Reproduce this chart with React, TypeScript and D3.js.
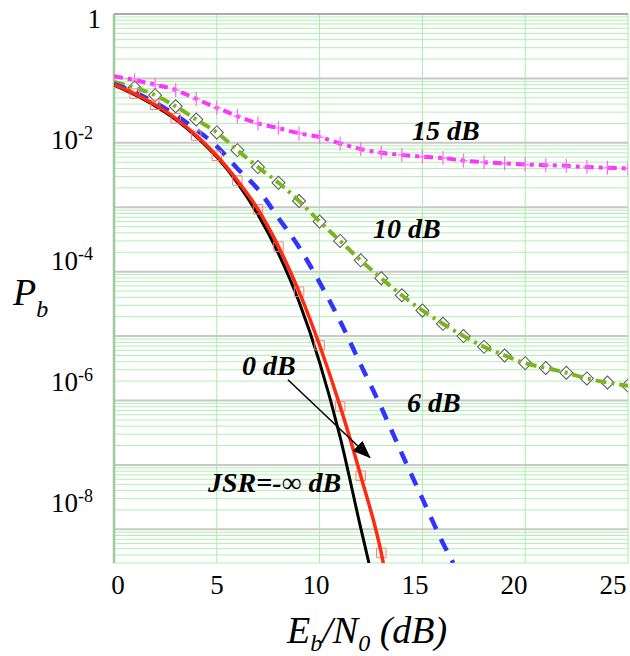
import React, { Component } from "react";
import * as d3 from "d3";

// Eb/N0 (dB) and Pb, one pair of arrays per curve
const ebnoJsrInf = [0, 1, 2, 3, 4, 5, 6, 7, 8, 9, 10, 11, 12, 12.4];
const pbJsrInf = [7.9e-2, 5.6e-2, 3.75e-2, 2.3e-2, 1.25e-2, 6.0e-3, 2.4e-3, 7.7e-4, 1.9e-4, 3.4e-5, 3.9e-6, 2.7e-7, 1.05e-8, 3.0e-9];

const ebno0dB = [0, 1, 2, 3, 4, 5, 6, 7, 8, 9, 10, 11, 12, 13, 13.1];
const pb0dB = [8.0e-2, 5.8e-2, 3.9e-2, 2.4e-2, 1.3e-2, 6.3e-3, 2.6e-3, 9.3e-4, 2.45e-4, 4.9e-5, 7.2e-6, 8.1e-7, 6.8e-8, 4.3e-9, 3.0e-9];

const ebno6dB = [0, 1, 2, 3, 4, 5, 6, 7, 8, 9, 10, 11, 12, 13, 14, 15, 16, 16.5];
const pb6dB = [8.2e-2, 6.1e-2, 4.2e-2, 2.7e-2, 1.6e-2, 8.8e-3, 4.0e-3, 1.9e-3, 6.8e-4, 2.4e-4, 6.8e-5, 1.7e-5, 3.6e-6, 7.8e-7, 1.5e-7, 3.0e-8, 6.1e-9, 3.0e-9];

const ebno10dB = [0, 1, 2, 3, 4, 5, 6, 7, 8, 9, 10, 11, 12, 13, 14, 15, 16, 17, 18, 19, 20, 21, 22, 23, 24, 25];
const pb10dB = [8.8e-2, 7.2e-2, 5.5e-2, 3.7e-2, 2.3e-2, 1.45e-2, 7.7e-3, 4.2e-3, 2.4e-3, 1.25e-3, 6.0e-4, 3.0e-4, 1.5e-4, 7.9e-5, 4.3e-5, 2.5e-5, 1.55e-5, 1.0e-5, 6.8e-6, 5.0e-6, 3.8e-6, 3.2e-6, 2.7e-6, 2.2e-6, 1.9e-6, 1.7e-6];

const ebno15dB = [0, 1, 2, 3, 4, 5, 6, 7, 8, 9, 10, 11, 12, 13, 14, 15, 16, 17, 18, 19, 20, 21, 22, 23, 24, 25];
const pb15dB = [0.108, 0.094, 0.08, 0.066, 0.048, 0.035, 0.026, 0.02, 0.017, 0.014, 0.0123, 0.0098, 0.008, 0.007, 0.0065, 0.0061, 0.0058, 0.0053, 0.005, 0.0048, 0.0046, 0.0045, 0.0044, 0.0042, 0.0041, 0.004];

const xTicks = [0, 5, 10, 15, 20, 25];
const yTickExps = [0, -2, -4, -6, -8];

// curve labels, placed in data coordinates
const curveLabels = [
  { text: "15 dB", db: 14.5, pb: 1.1e-2 },
  { text: "10 dB", db: 12.6, pb: 3.3e-4 },
  { text: "6 dB", db: 14.25, pb: 6.6e-7 },
  { text: "0 dB", db: 6.23, pb: 2.5e-6 },
  { text: "JSR=-\u221E dB", db: 4.57, pb: 3.8e-8 },
];
const arrowFrom = { db: 8.46, pb: 2.1e-6 };
const arrowTo = { db: 12.45, pb: 1.3e-7 };

const serif = "\"Liberation Serif\", Tinos, \"Times New Roman\", \"DejaVu Serif\", serif";

class App extends Component {
  svgRef = React.createRef<SVGSVGElement>();

  componentDidMount() {
    this.draw();
  }

  draw() {
    const svg = d3.select(this.svgRef.current);
    svg.selectAll("*").remove();

    const left = 114, right = 628, top = 14, bottom = 563;
    const yMin = 3e-9;

    const x = d3.scaleLinear().domain([0, 25]).range([left, right]);
    const y = d3.scaleLog().domain([1, yMin]).range([top, bottom]);
    // tick labels in the figure sit slightly off the grid lines
    const xLab = d3.scaleLinear().domain([0, 25]).range([118, 613]);
    const yLab = d3.scaleLog().domain([1, 1e-8]).range([28, 512]);

    const defs = svg.append("defs");
    defs.append("clipPath").attr("id", "plotclip")
      .append("rect").attr("x", left).attr("y", top - 2)
      .attr("width", right - left).attr("height", bottom - top + 2);
    defs.append("marker").attr("id", "arrowhead")
      .attr("markerUnits", "userSpaceOnUse")
      .attr("markerWidth", 18).attr("markerHeight", 14)
      .attr("refX", 17).attr("refY", 7).attr("orient", "auto")
      .append("path").attr("d", "M0,0L18,7L0,14Z").attr("fill", "#000");

    // grid
    const minors: number[] = [];
    const decades: number[] = [];
    for (let k = 0; k >= -9; k--) {
      for (let m = 1; m <= 9; m++) {
        const v = m * Math.pow(10, k);
        if (v > 1.0001 || v < yMin * 0.999) continue;
        (m === 1 ? decades : minors).push(v);
      }
    }
    const grid = svg.append("g");
    grid.selectAll(".minor").data(minors).join("line")
      .attr("x1", left).attr("x2", right)
      .attr("y1", (d) => y(d)).attr("y2", (d) => y(d))
      .attr("stroke", "#b2efb2").attr("stroke-width", 1);
    grid.selectAll(".vgrid").data(xTicks.slice(1)).join("line")
      .attr("x1", (d) => x(d)).attr("x2", (d) => x(d))
      .attr("y1", top).attr("y2", bottom)
      .attr("stroke", "#a8eca8").attr("stroke-width", 1);
    grid.selectAll(".decade").data(decades).join("line")
      .attr("x1", left).attr("x2", right)
      .attr("y1", (d) => y(d)).attr("y2", (d) => y(d))
      .attr("stroke", "#c8c8c8").attr("stroke-width", 2);
    grid.append("line")
      .attr("x1", left).attr("x2", left).attr("y1", top).attr("y2", bottom)
      .attr("stroke", "#9fc99f").attr("stroke-width", 2.5);
    grid.append("line")
      .attr("x1", left).attr("x2", right).attr("y1", top).attr("y2", top)
      .attr("stroke", "#aaaaaa").attr("stroke-width", 2);

    const line = d3.line<[number, number]>()
      .x((d) => x(d[0]))
      .y((d) => y(d[1]))
      .curve(d3.curveMonotoneX);
    const pts = (xs: number[], ys: number[]) => xs.map((v, i) => [v, ys[i]] as [number, number]);

    const curves = svg.append("g").attr("clip-path", "url(#plotclip)");

    // JSR = 15 dB, magenta dash-dot with plus markers
    const p15 = pts(ebno15dB, pb15dB);
    curves.append("path").datum(p15).attr("d", line)
      .attr("fill", "none").attr("stroke", "#ff33ff")
      .attr("stroke-width", 4).attr("stroke-dasharray", "9,5,4,5");
    curves.selectAll(".plus").data(p15.slice(1)).join("path")
      .attr("transform", (d) => `translate(${x(d[0])},${y(d[1])})`)
      .attr("d", "M0,-7V7M-4,0H4")
      .attr("stroke", "#ff66ff").attr("stroke-width", 1.2).attr("fill", "none");

    // JSR = 10 dB, green dash-dot with hollow diamonds
    const p10 = pts(ebno10dB, pb10dB);
    curves.selectAll(".diamond").data(p10.slice(1)).join("path")
      .attr("transform", (d) => `translate(${x(d[0])},${y(d[1])}) rotate(45)`)
      .attr("d", d3.symbol().type(d3.symbolSquare).size(85)())
      .attr("fill", "#ffffff").attr("stroke", "#555555").attr("stroke-width", 1);
    curves.append("path").datum(p10).attr("d", line)
      .attr("fill", "none").attr("stroke", "#7ab51d")
      .attr("stroke-width", 4).attr("stroke-dasharray", "11,5,3,5");

    // JSR = 6 dB, blue dashed
    curves.append("path").datum(pts(ebno6dB, pb6dB)).attr("d", line)
      .attr("fill", "none").attr("stroke", "#3333ff")
      .attr("stroke-width", 4.5).attr("stroke-dasharray", "13,11");

    // JSR = -inf dB, black solid
    curves.append("path").datum(pts(ebnoJsrInf, pbJsrInf)).attr("d", line)
      .attr("fill", "none").attr("stroke", "#000000").attr("stroke-width", 3);

    // JSR = 0 dB, red solid with faint square markers
    const p0 = pts(ebno0dB, pb0dB);
    curves.selectAll(".square").data(p0.slice(1, 14)).join("path")
      .attr("transform", (d) => `translate(${x(d[0])},${y(d[1])})`)
      .attr("d", d3.symbol().type(d3.symbolSquare).size(90)())
      .attr("fill", "none").attr("stroke", "#ff8080").attr("stroke-width", 1);
    curves.append("path").datum(p0).attr("d", line)
      .attr("fill", "none").attr("stroke", "#ff2a10").attr("stroke-width", 3.5);

    // tick labels
    svg.selectAll(".xtick").data(xTicks).join("text")
      .attr("x", (d) => xLab(d)).attr("y", 594)
      .attr("text-anchor", "middle")
      .style("font-family", serif).style("font-size", "27px")
      .text((d) => d);

    yTickExps.forEach((e) => {
      const t = svg.append("text")
        .attr("y", yLab(Math.pow(10, e)))
        .style("font-family", serif).style("font-size", "27px");
      if (e === 0) {
        t.attr("x", 101).attr("text-anchor", "end").text("1");
      } else {
        t.attr("x", 51);
        t.append("tspan").text("10");
        t.append("tspan").attr("dy", -10).style("font-size", "18px").text(String(e));
      }
    });

    // axis titles
    const yt = svg.append("text").attr("x", 13).attr("y", 305)
      .style("font-family", serif).style("font-style", "italic").style("font-size", "38px");
    yt.append("tspan").text("P");
    yt.append("tspan").attr("dy", 12).style("font-size", "24px").text("b");

    const xt = svg.append("text").attr("x", 287).attr("y", 643)
      .style("font-family", serif).style("font-style", "italic").style("font-size", "38px");
    xt.append("tspan").text("E");
    xt.append("tspan").attr("dy", 8).style("font-size", "24px").text("b");
    xt.append("tspan").attr("dy", -8).text("/N");
    xt.append("tspan").attr("dy", 8).style("font-size", "24px").text("0");
    xt.append("tspan").attr("dy", -8).text(" (dB)");

    // curve labels and arrow
    svg.selectAll(".clabel").data(curveLabels).join("text")
      .attr("x", (d) => x(d.db)).attr("y", (d) => y(d.pb))
      .style("font-family", serif).style("font-style", "italic")
      .style("font-weight", "bold").style("font-size", "28px")
      .text((d) => d.text);

    svg.append("line")
      .attr("x1", x(arrowFrom.db)).attr("y1", y(arrowFrom.pb))
      .attr("x2", x(arrowTo.db)).attr("y2", y(arrowTo.pb))
      .attr("stroke", "#000").attr("stroke-width", 1.5)
      .attr("marker-end", "url(#arrowhead)");
  }

  render() {
    return (
      <svg
        ref={this.svgRef}
        width={630}
        height={656}
        style={{ position: "absolute", left: 0, top: 0, background: "#ffffff" }}
      />
    );
  }
}

export default App;
